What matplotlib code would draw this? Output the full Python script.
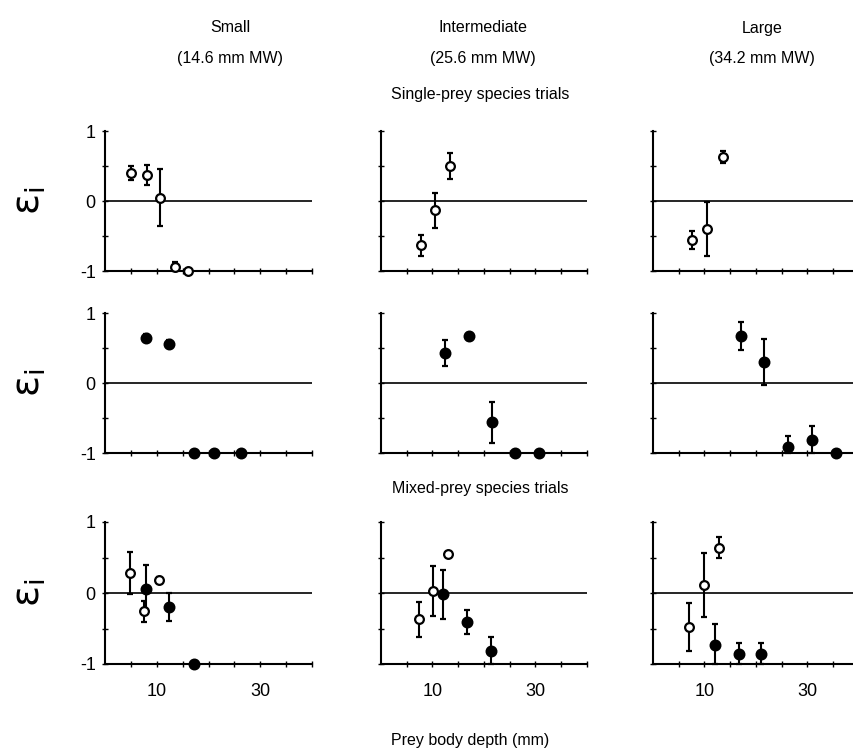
import matplotlib.pyplot as plt

plt.rcParams['font.family'] = ['Liberation Sans', 'DejaVu Sans']

# --- data: prey body depth (mm) vs electivity index, mean +/- error -----
# single-prey trials, open circles
small_single_x = [5.0, 8.0, 10.6, 13.5, 16.0]
small_single_y = [0.40, 0.37, 0.05, -0.94, -1.0]
small_single_err = [0.10, 0.14, 0.41, 0.07, 0.0]

inter_single_x = [7.7, 10.5, 13.4]
inter_single_y = [-0.63, -0.13, 0.50]
inter_single_err = [0.15, 0.25, 0.18]

large_single_x = [7.6, 10.4, 13.5]
large_single_y = [-0.56, -0.40, 0.63]
large_single_err = [0.13, 0.38, 0.08]

# single-prey trials, filled circles
small_single2_x = [7.9, 12.3, 17.1, 21.0, 26.3]
small_single2_y = [0.65, 0.56, -1.0, -1.0, -1.0]
small_single2_err = [0.05, 0.05, 0.0, 0.0, 0.0]

inter_single2_x = [12.5, 17.0, 21.6, 26.0, 30.6]
inter_single2_y = [0.43, 0.67, -0.56, -1.0, -1.0]
inter_single2_err = [0.19, 0.05, 0.29, 0.0, 0.0]

large_single2_x = [17.0, 21.6, 26.3, 30.9, 35.5]
large_single2_y = [0.67, 0.30, -0.91, -0.81, -1.0]
large_single2_err = [0.20, 0.33, 0.15, 0.20, 0.0]

# mixed-prey trials
small_mixed_open_x = [4.8, 7.5, 10.3]
small_mixed_open_y = [0.28, -0.26, 0.19]
small_mixed_open_err = [0.30, 0.15, 0.04]
small_mixed_fill_x = [7.8, 12.3, 17.1]
small_mixed_fill_y = [0.06, -0.20, -1.0]
small_mixed_fill_err = [0.34, 0.20, 0.0]

inter_mixed_open_x = [7.3, 10.1, 13.1]
inter_mixed_open_y = [-0.37, 0.03, 0.55]
inter_mixed_open_err = [0.25, 0.35, 0.0]
inter_mixed_fill_x = [12.1, 16.7, 21.3]
inter_mixed_fill_y = [-0.02, -0.41, -0.82]
inter_mixed_fill_err = [0.35, 0.17, 0.20]

large_mixed_open_x = [7.0, 10.0, 12.9]
large_mixed_open_y = [-0.48, 0.11, 0.64]
large_mixed_open_err = [0.34, 0.45, 0.15]
large_mixed_fill_x = [12.1, 16.7, 21.0]
large_mixed_fill_y = [-0.73, -0.86, -0.86]
large_mixed_fill_err = [0.30, 0.15, 0.15]

col_titles = ["Small", "Intermediate", "Large"]
col_sizes = ["(14.6 mm MW)", "(25.6 mm MW)", "(34.2 mm MW)"]

panels = [
    [[(small_single_x, small_single_y, small_single_err, False)],
     [(inter_single_x, inter_single_y, inter_single_err, False)],
     [(large_single_x, large_single_y, large_single_err, False)]],
    [[(small_single2_x, small_single2_y, small_single2_err, True)],
     [(inter_single2_x, inter_single2_y, inter_single2_err, True)],
     [(large_single2_x, large_single2_y, large_single2_err, True)]],
    [[(small_mixed_open_x, small_mixed_open_y, small_mixed_open_err, False),
      (small_mixed_fill_x, small_mixed_fill_y, small_mixed_fill_err, True)],
     [(inter_mixed_open_x, inter_mixed_open_y, inter_mixed_open_err, False),
      (inter_mixed_fill_x, inter_mixed_fill_y, inter_mixed_fill_err, True)],
     [(large_mixed_open_x, large_mixed_open_y, large_mixed_open_err, False),
      (large_mixed_fill_x, large_mixed_fill_y, large_mixed_fill_err, True)]],
]

W, H = 854, 753
fig = plt.figure(figsize=(W / 100, H / 100), dpi=100)
fig.patch.set_facecolor("white")

col_left = [105.5, 381, 653]
col_w = 206
row_top = [131, 313, 522]
row_h = [140, 140, 142]


def draw(ax, x, y, err, filled):
    # error bars stop at the -1 floor
    lower = [min(e, v + 1) for e, v in zip(err, y)]
    cont = ax.errorbar(
        x, y, yerr=[lower, err], fmt="o", ms=7 if filled else 6.3,
        mfc="black" if filled else "white", mec="black", mew=1.6,
        ecolor="black", elinewidth=1.5, capsize=2.5, capthick=1.5, zorder=3,
    )
    for art in cont.get_children():
        art.set_clip_on(False)
    cont[0].set_clip_on(False)


for r in range(3):
    for c in range(3):
        ax = fig.add_axes([col_left[c] / W, 1 - (row_top[r] + row_h[r]) / H,
                           col_w / W, row_h[r] / H])
        ax.set_xlim(0, 40)
        ax.set_ylim(-1, 1)
        for s in ("top", "right"):
            ax.spines[s].set_visible(False)
        ax.spines["left"].set_linewidth(1.5)
        ax.spines["bottom"].set_linewidth(1.5)
        ax.axhline(0, color="black", lw=1.2, zorder=1)
        ax.set_xticks(range(5, 45, 5))
        if r == 2:
            ax.set_xticklabels(["", "10", "", "", "", "30", "", ""])
        else:
            ax.set_xticklabels([])
        ax.set_yticks([-1, -0.5, 0, 0.5, 1])
        if c == 0:
            ax.set_yticklabels(["-1", "", "0", "", "1"])
        else:
            ax.set_yticklabels([])
        ax.tick_params(axis="x", direction="inout", length=4, width=1,
                       labelsize=13, pad=12)
        ax.tick_params(axis="y", direction="inout", length=4, width=1,
                       labelsize=13, pad=5)
        for x, y, err, filled in panels[r][c]:
            draw(ax, x, y, err, filled)
    # epsilon label for the row
    fig.text(30 / W, 1 - (row_top[r] + row_h[r] / 2) / H,
             r"$\mathrm{\varepsilon_i}$",
             rotation=90, fontsize=28, ha="center", va="center")

title_x = [230, 483, 762]
for c in range(3):
    fig.text(title_x[c] / W, 1 - 28 / H, col_titles[c], fontsize=11.5,
             ha="center", va="center")
    fig.text(title_x[c] / W, 1 - 58 / H, col_sizes[c], fontsize=11.5,
             ha="center", va="center")

fig.text(480 / W, 1 - 95 / H, "Single-prey species trials", fontsize=11.5,
         ha="center", va="center")
fig.text(480 / W, 1 - 488 / H, "Mixed-prey species trials", fontsize=11.5,
         ha="center", va="center")
fig.text(470 / W, 1 - 740 / H, "Prey body depth (mm)", fontsize=11.5,
         ha="center", va="center")

fig.savefig("out.png", dpi=100, facecolor="white")
